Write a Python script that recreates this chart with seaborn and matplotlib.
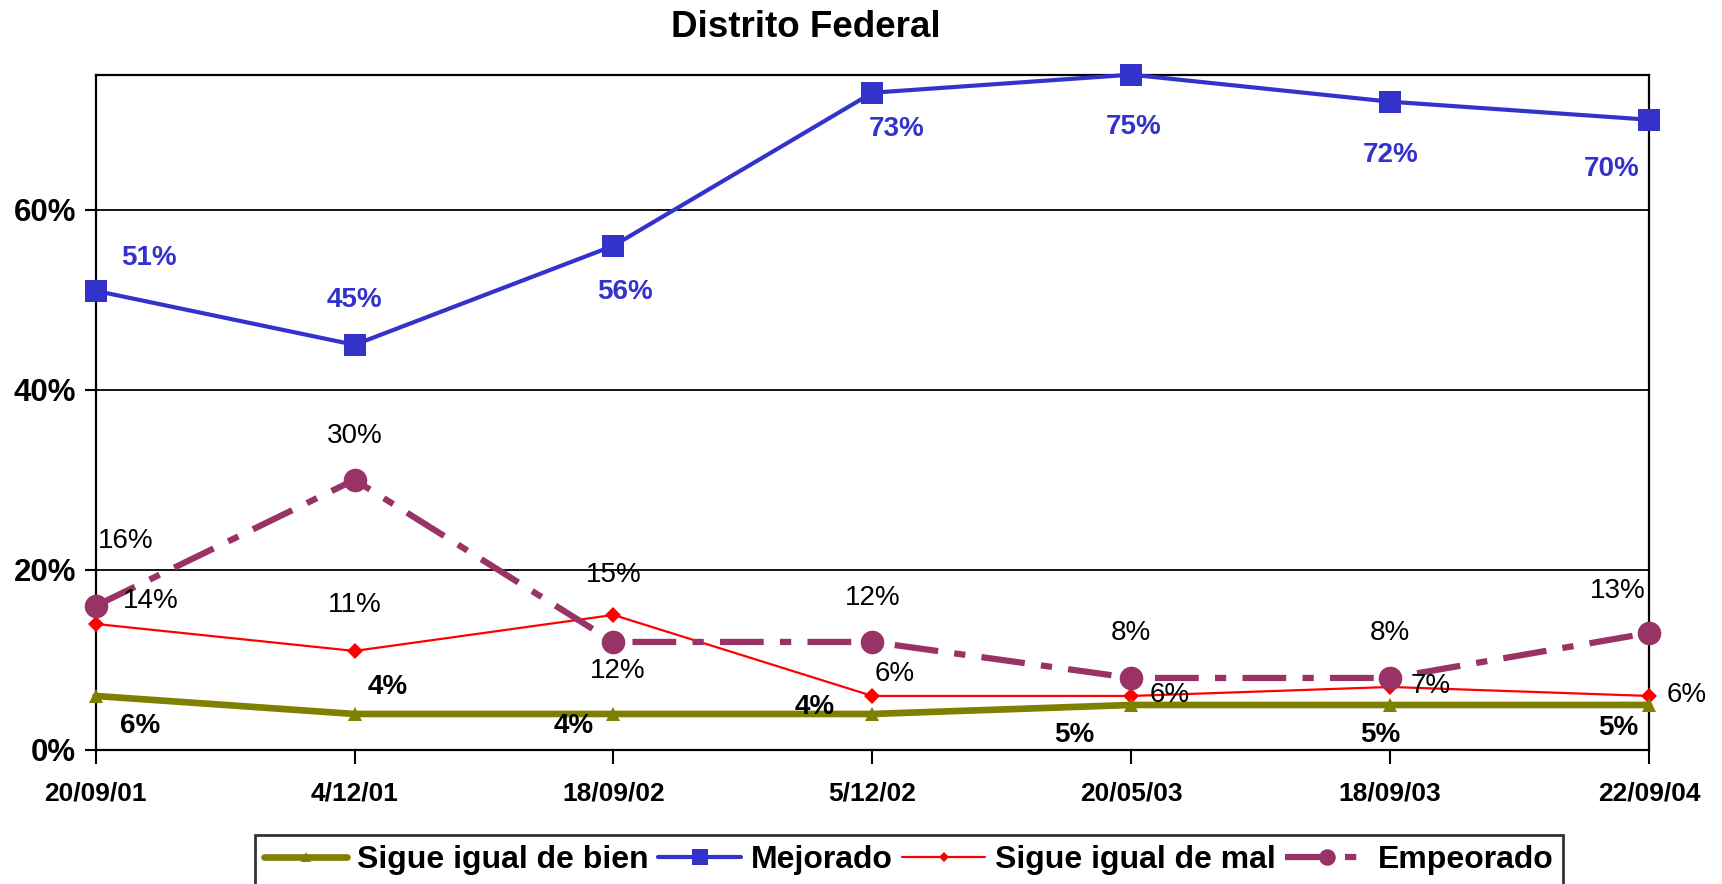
import numpy as np
import pandas as pd
import matplotlib
matplotlib.use('Agg')
import matplotlib.pyplot as plt
import seaborn as sb

# data
fechas = ['20/09/01', '4/12/01', '18/09/02', '5/12/02', '20/05/03', '18/09/03', '22/09/04']
igual_bien = [6, 4, 4, 4, 5, 5, 5]
mejorado = [51, 45, 56, 73, 75, 72, 70]
igual_mal = [14, 11, 15, 6, 6, 7, 6]
empeorado = [16, 30, 12, 12, 8, 8, 13]

sb.set_style('white')
plt.rcParams['font.family'] = ['Liberation Sans', 'DejaVu Sans']
plt.rcParams['text.color'] = 'black'
plt.rcParams['xtick.color'] = 'black'
plt.rcParams['ytick.color'] = 'black'

df = pd.DataFrame({'fecha': fechas, 'pos': range(len(fechas)),
                   'Sigue igual de bien': igual_bien, 'Mejorado': mejorado,
                   'Sigue igual de mal': igual_mal, 'Empeorado': empeorado})

fig = plt.figure(figsize=(17.22, 8.84), dpi=100)
ax = fig.add_axes([0.0555, 0.1516, 0.9022, 0.7639])

azul = '#3333cc'
rojo = '#ff0000'
olivo = '#808000'
morado = '#993366'

sb.lineplot(data=df, x='pos', y='Sigue igual de mal', ax=ax, color=rojo, lw=1.6,
            marker='D', markersize=8, markeredgewidth=0, label='Sigue igual de mal',
            zorder=3, clip_on=False)
sb.lineplot(data=df, x='pos', y='Sigue igual de bien', ax=ax, color=olivo, lw=4.8,
            marker='^', markersize=10, markeredgewidth=0, label='Sigue igual de bien',
            zorder=3, clip_on=False)
sb.lineplot(data=df, x='pos', y='Empeorado', ax=ax, color=morado, lw=4.5,
            marker='o', markersize=17, markeredgewidth=0, label='Empeorado',
            zorder=4, clip_on=False)
ax.lines[-1].set_dashes((7, 2.6, 1.8, 2.6))
sb.lineplot(data=df, x='pos', y='Mejorado', ax=ax, color=azul, lw=3.0,
            marker='s', markersize=16, markeredgewidth=0, label='Mejorado',
            zorder=5, clip_on=False)

# data labels (offsets in pixels)
off_mej = [(53, 33), (0, 45), (12, -46), (24, -36), (2, -52), (0, -53), (-38, -49)]
off_emp = [(30, 65), (0, 44), (4, -29), (0, 44), (0, 45), (0, 45), (-31, 42)]
off_mal = [(55, 23), (0, 46), (0, 40), (22, 22), (38, 1), (40, 1), (38, 1)]
off_bien = [(45, -30), (33, 27), (-40, -12), (-58, 7), (-57, -30), (-10, -30), (-31, -23)]

def etiquetas(vals, offs, color, peso):
    for i, (v, o) in enumerate(zip(vals, offs)):
        ax.annotate(f'{v}%', (i, v), xytext=o, textcoords='offset pixels',
                    ha='center', va='center', fontsize=20, color=color,
                    fontweight=peso, zorder=6)

etiquetas(mejorado, off_mej, azul, 'bold')
etiquetas(empeorado, off_emp, 'black', 'normal')
etiquetas(igual_mal, off_mal, 'black', 'normal')
etiquetas(igual_bien, off_bien, 'black', 'bold')

ax.set_xlim(0, len(fechas) - 1)
ax.set_ylim(0, 75)
ax.set_yticks([0, 20, 40, 60])
ax.set_yticklabels(['0%', '20%', '40%', '60%'], fontsize=22.5, fontweight='bold')
ax.set_xticks(range(len(fechas)))
ax.set_xticklabels(fechas, fontsize=19, fontweight='bold')
ax.set_xlabel('')
ax.set_ylabel('')
for y in [20, 40, 60]:
    ax.axhline(y, color='black', lw=1.3, zorder=1)
for s in ax.spines.values():
    s.set_color('black')
    s.set_linewidth(1.6)
ax.tick_params(axis='y', direction='out', length=8, width=1.5, pad=6, left=True)
ax.tick_params(axis='x', direction='out', length=10, width=1.5, pad=13, bottom=True)

fig.text(0.468, 0.969, 'Distrito Federal', ha='center', va='center',
         fontsize=26.5, fontweight='bold')

h, l = ax.get_legend_handles_labels()
orden = ['Sigue igual de bien', 'Mejorado', 'Sigue igual de mal', 'Empeorado']
hs = [h[l.index(n)] for n in orden]
leg = ax.legend(hs, orden, loc='upper left', bbox_to_anchor=(0.148, 0.055),
                bbox_transform=fig.transFigure, ncol=4, frameon=True, fancybox=False,
                prop={'size': 23, 'weight': 'bold'}, handlelength=2.6,
                handletextpad=0.3, columnspacing=0.3, borderpad=0.3,
                borderaxespad=0, numpoints=1, markerscale=0.7)
leg.get_frame().set_edgecolor('black')
leg.get_frame().set_linewidth(2)

fig.savefig('out.png', dpi=100)
